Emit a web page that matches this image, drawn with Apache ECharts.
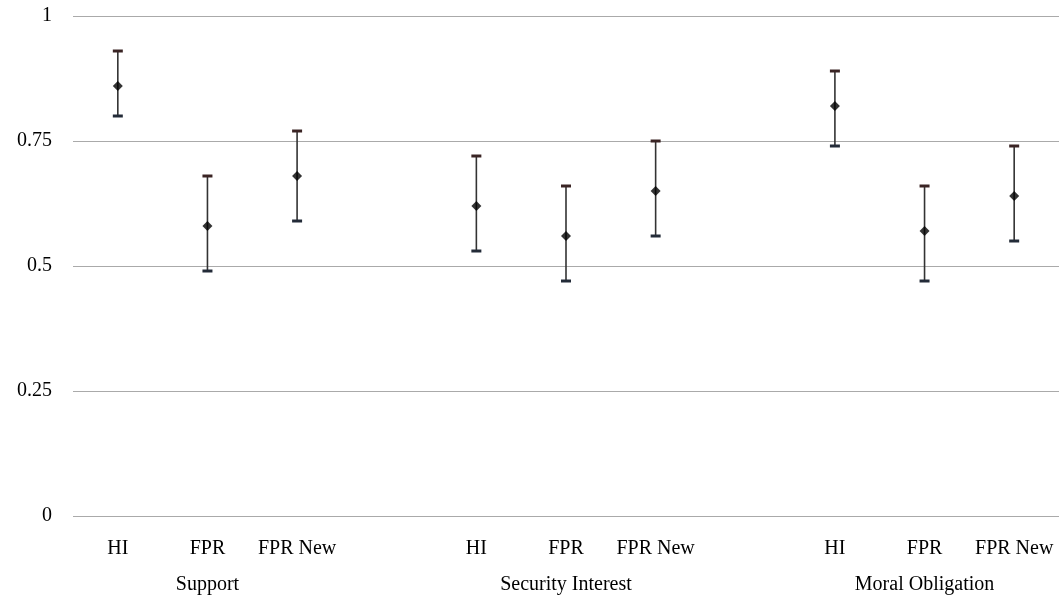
<!DOCTYPE html>
<html>
<head>
<meta charset="utf-8">
<script src="https://cdn.jsdelivr.net/npm/echarts@6/dist/echarts.min.js"></script>
<style>html,body{margin:0;padding:0;background:#fff}#c{width:1062px;height:603px}</style>
</head>
<body>
<div id="c"></div>
<script>
const categories = ['HI','FPR','FPR New','','HI','FPR','FPR New','','HI','FPR','FPR New'];
const groupLabels = ['','Support','','','','Security Interest','','','','Moral Obligation',''];
const means = [0.86,0.58,0.68,null,0.62,0.56,0.65,null,0.82,0.57,0.64];
const upper = [0.93,0.68,0.77,null,0.72,0.66,0.75,null,0.89,0.66,0.74];
const lower = [0.80,0.49,0.59,null,0.53,0.47,0.56,null,0.74,0.47,0.55];
const yTicks = [0,0.25,0.5,0.75,1];

const errData = [];
categories.forEach((c,i)=>{ if(means[i]!=null) errData.push([i,lower[i],upper[i]]); });
const meanData = [];
categories.forEach((c,i)=>{ if(means[i]!=null) meanData.push([i,means[i]]); });

const font = 'Liberation Serif, Times New Roman, serif';
const chart = echarts.init(document.getElementById('c'));
chart.setOption({
  animation:false,
  grid:{left:73,right:3,top:16,bottom:87},
  xAxis:[{
    type:'category', data:categories, position:'bottom',
    axisLine:{show:false}, axisTick:{show:false},
    axisLabel:{interval:0, color:'#000', fontFamily:font, fontSize:20, margin:23}
  },{
    type:'category', data:groupLabels, position:'bottom', offset:37,
    axisLine:{show:false}, axisTick:{show:false},
    axisLabel:{interval:0, color:'#000', fontFamily:font, fontSize:20, margin:22}
  }],
  yAxis:{
    type:'value', min:0, max:1, interval:0.25,
    axisLine:{show:false}, axisTick:{show:false},
    axisLabel:{color:'#000', fontFamily:font, fontSize:20, margin:21, padding:[4,0,0,0],
      formatter:v=>{const s=yTicks.find(t=>Math.abs(t-v)<1e-9); return String(s!=null?s:v);}},
    splitLine:{lineStyle:{color:'#aaaaaa', width:1}}
  },
  series:[{
    type:'custom', xAxisIndex:0,
    renderItem:(params,api)=>{
      const x=api.value(0);
      const lo=api.coord([x,api.value(1)]);
      const hi=api.coord([x,api.value(2)]);
      const hw=5;
      return {type:'group',children:[
        {type:'line',shape:{x1:lo[0],y1:lo[1],x2:hi[0],y2:hi[1]},style:{stroke:'#333',lineWidth:1.6}},
        {type:'rect',shape:{x:hi[0]-hw,y:hi[1]-1.5,width:hw*2,height:3},style:{fill:'#3a2424'}},
        {type:'rect',shape:{x:lo[0]-hw,y:lo[1]-1.5,width:hw*2,height:3},style:{fill:'#232b38'}}
      ]};
    },
    encode:{x:0,y:[1,2]},
    data:errData, z:2
  },{
    type:'scatter', xAxisIndex:0, symbol:'diamond', symbolSize:10,
    itemStyle:{color:'#000'}, data:meanData, z:3
  }]
});
</script>
</body>
</html>
